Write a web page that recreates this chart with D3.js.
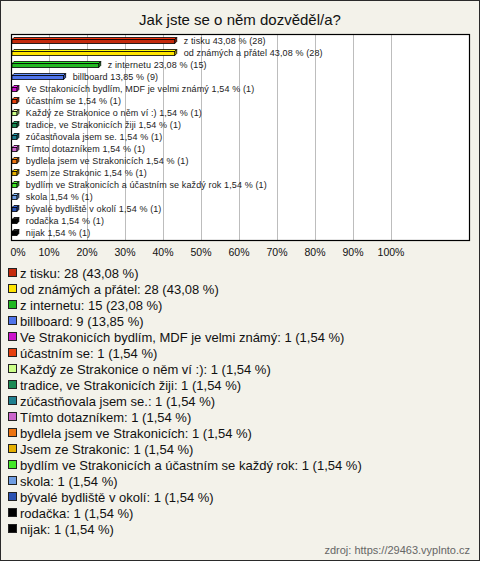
<!DOCTYPE html>
<html><head><meta charset="utf-8">
<script src="https://cdn.jsdelivr.net/npm/d3@7"></script>
<style>html,body{margin:0;padding:0;background:#f3f2ea;}svg{display:block;}</style>
</head><body>
<svg id="c" width="480" height="561"></svg>
<script>
const title = "Jak jste se o něm dozvěděl/a?";
const categories = ["z tisku","od známých a přátel","z internetu","billboard","Ve Strakonicích bydlím, MDF je velmi známý","účastním se","Každý ze Strakonice o něm ví :)","tradice, ve Strakonicích žiji","zúčastňovala jsem se.","Tímto dotazníkem","bydlela jsem ve Strakonicích","Jsem ze Strakonic","bydlím ve Strakonicích a účastním se každý rok","skola","bývalé bydliště v okolí","rodačka","nijak"];
const counts = [28,28,15,9,1,1,1,1,1,1,1,1,1,1,1,1,1];
const percents = [43.08,43.08,23.08,13.85,1.54,1.54,1.54,1.54,1.54,1.54,1.54,1.54,1.54,1.54,1.54,1.54,1.54];
const colors = ["#c42a0c","#ffe400","#22b922","#4f74ea","#cc14cc","#e6400e","#ccff88","#1b8a55","#1f7f8f","#cc66cc","#ec7412","#e6b000","#44e82a","#6f9de2","#2b52b2","#000000","#000000"];
const ticks = [0,10,20,30,40,50,60,70,80,90,100];
const source = "zdroj: https://29463.vyplnto.cz";

const svg = d3.select("#c");
const W = 480, H = 561;
const fmt = v => v.toFixed(2).replace(".", ",");

svg.append("rect").attr("x",0.5).attr("y",0.5).attr("width",W-1).attr("height",H-1)
  .attr("fill","#f3f2ea").attr("stroke","#2a2a2a");

svg.append("text").attr("x",240).attr("y",25).attr("text-anchor","middle")
  .attr("font-family","Arial, 'Liberation Sans', sans-serif").attr("font-size",15).attr("fill","#111").text(title);

const plot = {l:11, r:470, t:34, b:240};
const x = d3.scaleLinear().domain([0,100]).range([plot.l, 391]);
const y = d3.scaleBand().domain(d3.range(categories.length)).range([plot.t+1, plot.t+1+12*categories.length]);

svg.append("rect").attr("x",plot.l+0.5).attr("y",plot.t+0.5).attr("width",plot.r-plot.l-1).attr("height",plot.b-plot.t)
  .attr("fill","#fff").attr("stroke","none");
svg.append("g").selectAll("line").data(ticks.filter(t=>t>0)).join("line")
  .attr("x1",d=>Math.round(x(d))+0.5).attr("x2",d=>Math.round(x(d))+0.5)
  .attr("y1",plot.t).attr("y2",plot.b).attr("stroke","#bdbdbd");
svg.append("rect").attr("x",plot.l+0.5).attr("y",plot.t+0.5).attr("width",plot.r-plot.l-1).attr("height",plot.b-plot.t)
  .attr("fill","none").attr("stroke","#000").attr("stroke-width",1.2);

// bars (3D)
const d = 2;
const g = svg.append("g");
categories.forEach((c,i)=>{
  const cy = y(i) + y.bandwidth()/2;
  const x0 = x(0)+1, x1 = x(percents[i]);
  const top = cy-1.5, bot = cy+2.5;
  const col = d3.color(colors[i]);
  const light = colors[i]==="#000000" ? "#222" : col.brighter(0.6);
  const dark = colors[i]==="#000000" ? "#000" : col.darker(0.7);
  g.append("path").attr("d",`M${x0},${top}L${x0+d},${top-d}L${x1+d},${top-d}L${x1},${top}Z`)
    .attr("fill",light).attr("stroke","#000").attr("stroke-width",0.8).attr("stroke-linejoin","round");
  g.append("path").attr("d",`M${x1},${top}L${x1+d},${top-d}L${x1+d},${bot-d}L${x1},${bot}Z`)
    .attr("fill",dark).attr("stroke","#000").attr("stroke-width",0.8);
  g.append("rect").attr("x",x0).attr("y",top).attr("width",x1-x0).attr("height",bot-top)
    .attr("fill",colors[i]).attr("stroke","#000").attr("stroke-width",0.8);
  g.append("text").attr("x",x1+d+7).attr("y",cy+3)
    .attr("font-family","Arial, 'Liberation Sans', sans-serif").attr("font-size",9).attr("letter-spacing",0.12)
    .attr("fill","#222").text(`${c} ${fmt(percents[i])} % (${counts[i]})`);
});

// tick labels
svg.append("g").selectAll("text").data(ticks).join("text")
  .attr("x",t=>t===0?18:x(t)).attr("y",256).attr("text-anchor","middle")
  .attr("font-family","Arial, 'Liberation Sans', sans-serif").attr("font-size",10.5).attr("fill","#111")
  .text(t=>t+"%");

// legend
const lg = svg.append("g");
categories.forEach((c,i)=>{
  const cy = 273 + 16*i;
  lg.append("rect").attr("x",8.5).attr("y",cy-4.5).attr("width",8).attr("height",8)
    .attr("fill",colors[i]).attr("stroke","#222").attr("stroke-width",1);
  lg.append("text").attr("x",20).attr("y",cy+4.5)
    .attr("font-family","Arial, 'Liberation Sans', sans-serif").attr("font-size",13).attr("fill","#111")
    .text(`${c}: ${counts[i]} (${fmt(percents[i])} %)`);
});

svg.append("text").attr("x",470).attr("y",554).attr("text-anchor","end")
  .attr("font-family","Arial, 'Liberation Sans', sans-serif").attr("font-size",11).attr("fill","#666").text(source);
</script>
</body></html>
